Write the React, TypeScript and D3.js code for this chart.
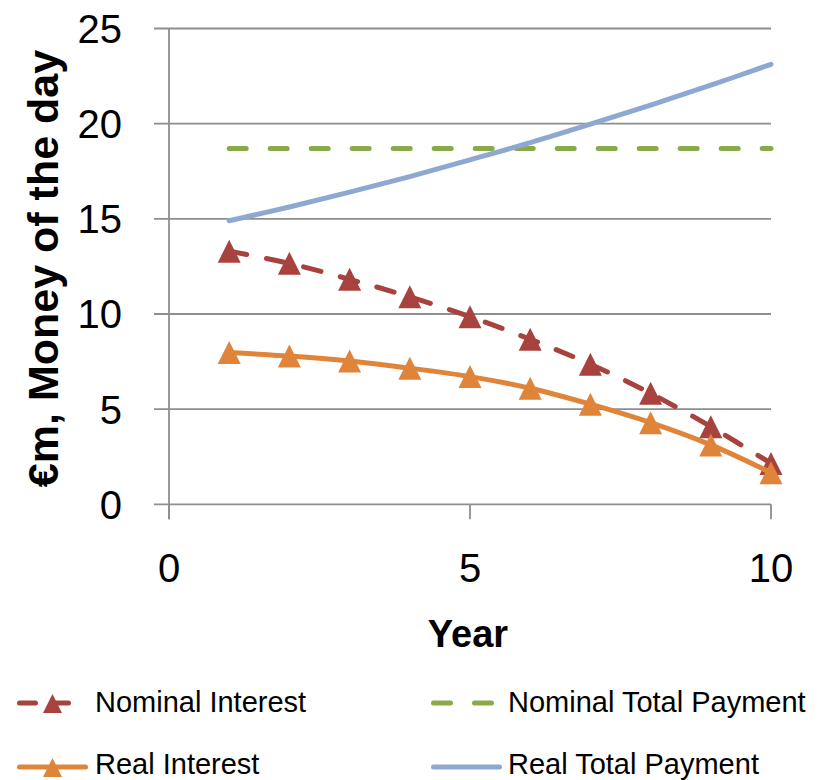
import React from "react";
import * as d3 from "d3";

const years = [1, 2, 3, 4, 5, 6, 7, 8, 9, 10];
const nominalInterest = [13.3, 12.66, 11.82, 10.9, 9.86, 8.67, 7.36, 5.83, 4.08, 2.15];
const realInterest = [7.97, 7.79, 7.53, 7.15, 6.71, 6.1, 5.26, 4.29, 3.12, 1.66];
const nominalTotal = [18.7, 18.7, 18.7, 18.7, 18.7, 18.7, 18.7, 18.7, 18.7, 18.7];
const realTotal = [14.9, 15.62, 16.4, 17.22, 18.1, 19.0, 19.97, 20.98, 22.02, 23.12];
const xTicks = [0, 5, 10];
const yTicks = [0, 5, 10, 15, 20, 25];

const W = 823;
const H = 780;
const FONT = "'Liberation Sans', Arial, sans-serif";

const RED = "#A8423E";
const ORANGE = "#E0843A";
const GREEN = "#8AAA4A";
const BLUE = "#8FA8D2";
const GRID = "#8E8E8E";

function tri(cx: number, cy: number, s: number) {
  const h = s / 2;
  return `M${cx},${cy - h}L${cx + h},${cy + h}L${cx - h},${cy + h}Z`;
}

export default function App() {
  const x = d3.scaleLinear().domain([0, 10]).range([169, 771]);
  const y = d3.scaleLinear().domain([0, 25]).range([504.3, 28.5]);

  const line = (vals: number[]) =>
    d3
      .line<number>()
      .x((_, i) => x(years[i]))
      .y((v) => y(v))
      .curve(d3.curveCatmullRom.alpha(0.5))(vals) as string;

  const lineStraight = (vals: number[]) =>
    d3
      .line<number>()
      .x((_, i) => x(years[i]))
      .y((v) => y(v))(vals) as string;

  const x0 = x(0);
  const x1 = x(10);
  const yb = y(0);

  return (
    <svg
      width={W}
      height={H}
      style={{ position: "absolute", left: 0, top: 0, background: "#fff" }}
      fontFamily={FONT}
    >
      {/* gridlines */}
      {yTicks.map((t) => (
        <line key={"g" + t} x1={154} x2={x1} y1={y(t)} y2={y(t)} stroke={GRID} strokeWidth={1.8} />
      ))}
      {/* y axis */}
      <line x1={x0} x2={x0} y1={y(25)} y2={yb + 15} stroke={GRID} strokeWidth={1.8} />
      {/* x ticks */}
      {xTicks.map((t) => (
        <line key={"xt" + t} x1={x(t)} x2={x(t)} y1={yb} y2={yb + 15} stroke={GRID} strokeWidth={1.8} />
      ))}
      {/* y tick labels */}
      {yTicks.map((t) => (
        <text key={"yl" + t} x={122} y={y(t) + 14.5} textAnchor="end" fontSize={40} fill="#000">
          {t}
        </text>
      ))}
      {/* x tick labels */}
      {xTicks.map((t) => (
        <text key={"xl" + t} x={x(t)} y={582} textAnchor="middle" fontSize={40} fill="#000">
          {t}
        </text>
      ))}
      {/* axis titles */}
      <text
        transform={`translate(58,268.5) rotate(-90)`}
        textAnchor="middle"
        fontSize={43}
        fontWeight="bold"
        fill="#000"
      >
        €m, Money of the day
      </text>
      <text x={468} y={647} textAnchor="middle" fontSize={38} fontWeight="bold" fill="#000">
        Year
      </text>

      {/* series */}
      <path
        d={line(nominalInterest)}
        fill="none"
        stroke={RED}
        strokeWidth={5}
        strokeDasharray="18 20"
        strokeLinecap="round"
      />
      {nominalInterest.map((v, i) => (
        <path key={"nm" + i} d={tri(x(years[i]), y(v), 23)} fill={RED} />
      ))}
      <path
        d={lineStraight(nominalTotal)}
        fill="none"
        stroke={GREEN}
        strokeWidth={5}
        strokeDasharray="17 24"
        strokeLinecap="round"
      />
      <path d={line(realInterest)} fill="none" stroke={ORANGE} strokeWidth={5} strokeLinecap="round" />
      {realInterest.map((v, i) => (
        <path key={"rm" + i} d={tri(x(years[i]), y(v), 23)} fill={ORANGE} />
      ))}
      <path d={line(realTotal)} fill="none" stroke={BLUE} strokeWidth={5} strokeLinecap="round" />

      {/* legend */}
      <g>
        <line x1={19.5} x2={85.5} y1={703} y2={703} stroke={RED} strokeWidth={5} strokeDasharray="16 17" strokeLinecap="round" />
        <path d={tri(52.5, 703.5, 19)} fill={RED} />
        <text x={95} y={712} fontSize={29} fill="#000">Nominal Interest</text>

        <line x1={19.5} x2={85.5} y1={767} y2={767} stroke={ORANGE} strokeWidth={5} strokeLinecap="round" />
        <path d={tri(52.5, 767.5, 19)} fill={ORANGE} />
        <text x={95} y={773.5} fontSize={29} fill="#000">Real Interest</text>

        <line x1={433.5} x2={499.5} y1={703} y2={703} stroke={GREEN} strokeWidth={5} strokeDasharray="17 24" strokeLinecap="round" />
        <text x={508} y={712} fontSize={29} fill="#000">Nominal Total Payment</text>

        <line x1={433.5} x2={499.5} y1={767} y2={767} stroke={BLUE} strokeWidth={5} strokeLinecap="round" />
        <text x={508} y={773.5} fontSize={29} fill="#000">Real Total Payment</text>
      </g>
    </svg>
  );
}
